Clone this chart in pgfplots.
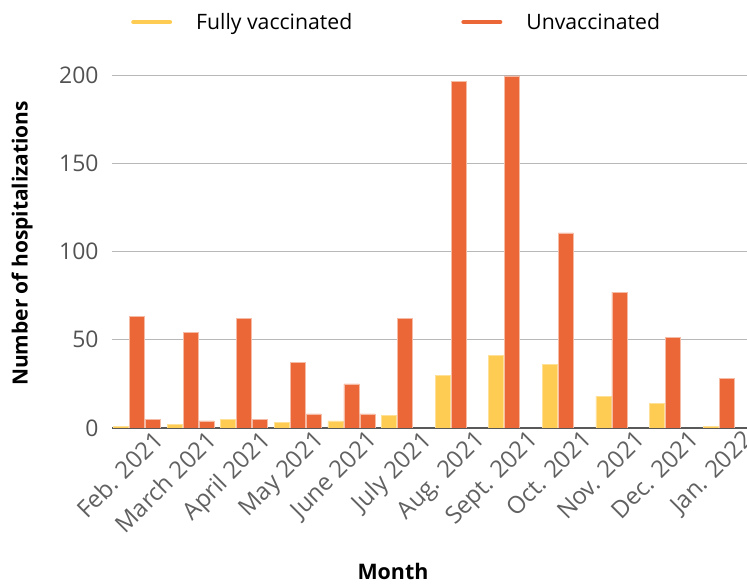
\documentclass[border=0pt]{standalone}
\usepackage{fontspec}
\setmainfont{Open Sans}
\usepackage{pgfplots}
\pgfplotsset{compat=1.18}
\definecolor{vyel}{RGB}{254,204,82}
\definecolor{vorg}{RGB}{236,103,56}
\begin{document}
\begin{tikzpicture}
\useasboundingbox (0,0) rectangle (747bp,585bp);
\begin{axis}[
  at={(112bp,157bp)}, anchor=south west,
  scale only axis, width=635bp, height=353bp,
  xmin=-0.466, xmax=11.38, ymin=0, ymax=200,
  /pgf/number format/assume math mode=true,
  separate axis lines,
  axis x line*=bottom, axis y line*=left,
  x axis line style={draw=black!65, line width=1.6bp},
  y axis line style={draw=none},
  ytick={0,50,100,150,200},
  ymajorgrids, grid style={black!28, line width=0.9bp},
  major tick length=0pt,
  yticklabel style={font=\fontsize{23}{26}\selectfont, color=black!68, xshift=-10bp},
  xtick={0,...,11},
  xticklabels={Feb. 2021, March 2021, April 2021, May 2021, June 2021, July 2021, Aug. 2021, Sept. 2021, Oct. 2021, Nov. 2021, Dec. 2021, Jan. 2022},
  xticklabel style={font=\fontsize{24}{27}\selectfont, color=black!62, rotate=45, anchor=north east, inner sep=0pt, xshift=10bp, yshift=-11bp},
  xlabel={Month},
  xlabel style={font=\bfseries\fontsize{21.5}{24}\selectfont, at={(axis description cs:0.4425,0)}, anchor=center, yshift=-143bp},
  ylabel={Number of hospitalizations},
  ylabel style={font=\bfseries\fontsize{21}{24}\selectfont, at={(axis description cs:-0.1417,0.523)}, anchor=center},
  legend columns=2,
  legend cell align=left,
  legend style={at={(axis description cs:0.0299,1.150)}, anchor=west, draw=none, fill=none,
    inner sep=0pt, font=\fontsize{21.3}{24}\selectfont,
    nodes={inner sep=0pt},
    /tikz/every odd column/.append style={column sep=24bp},
    /tikz/every even column/.append style={column sep=109bp}},
  clip=true,
]
\addlegendimage{legend image code/.code={\draw[vyel, line width=4.5bp, line cap=round] (2.25bp,0bp) -- (38.75bp,0bp);}}
\addlegendentry{Fully vaccinated}
\addlegendimage{legend image code/.code={\draw[vorg, line width=4.5bp, line cap=round] (2.25bp,0bp) -- (38.75bp,0bp);}}
\addlegendentry{Unvaccinated}
\addplot[ybar, bar width=15bp, bar shift=-16bp, fill=vyel, draw=vyel!60!white, line width=0.7bp, forget plot]
  coordinates {(0,1) (1,2) (2,5) (3,3) (4,4) (5,7) (6,30) (7,41) (8,36) (9,18) (10,14) (11,1)};
\addplot[ybar, bar width=15bp, bar shift=0bp, fill=vorg, draw=vorg!45!white, line width=0.7bp, forget plot]
  coordinates {(0,63) (1,54) (2,62) (3,37) (4,25) (5,62) (6,196.5) (7,199.5) (8,110.5) (9,77) (10,51.5) (11,28)};
\addplot[ybar, bar width=15bp, bar shift=16bp, fill=vorg, draw=vorg!45!white, line width=0.7bp, forget plot]
  coordinates {(0,5) (1,4) (2,5) (3,8) (4,8)};
\end{axis}
\end{tikzpicture}
\end{document}
